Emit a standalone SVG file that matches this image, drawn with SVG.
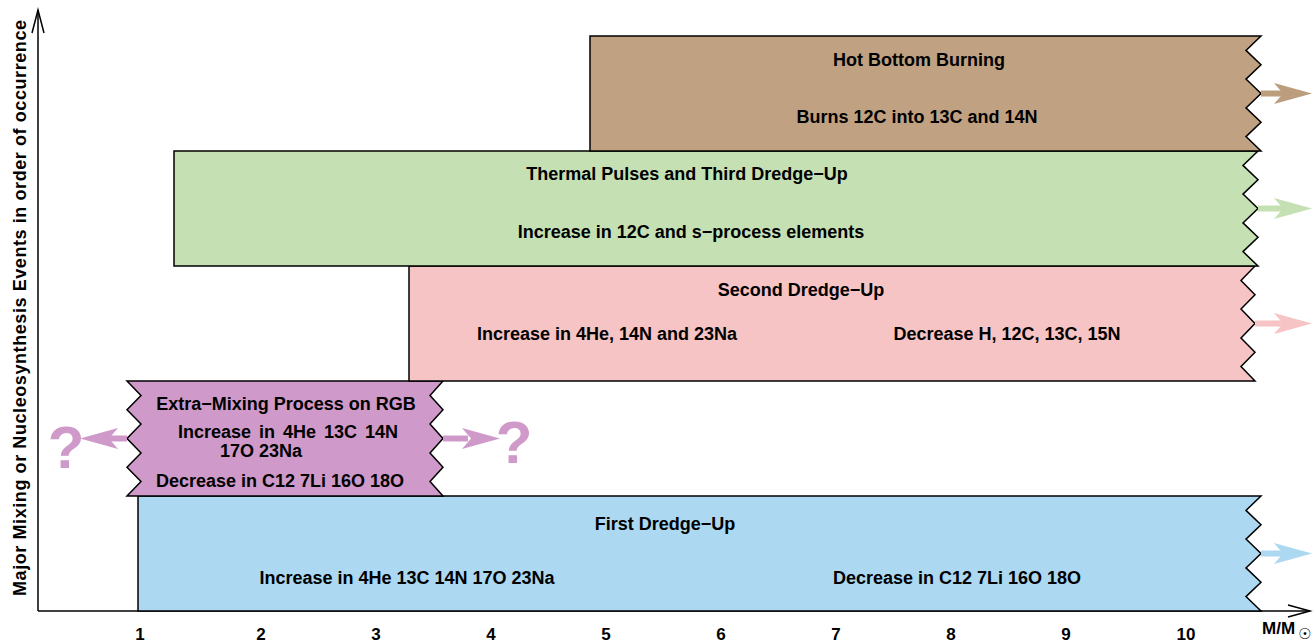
<svg xmlns="http://www.w3.org/2000/svg" width="1316" height="643" viewBox="0 0 1316 643">
<style>
text{font-family:"Liberation Sans",Arial,Helvetica,sans-serif;font-weight:bold;font-size:18px;fill:#000;text-anchor:middle}
.box{stroke:#000;stroke-width:1.5;stroke-linejoin:miter}
.axis{stroke:#000;stroke-width:1.5;fill:none}
.q{font-size:60px;fill:#cf9ac9}
.num{font-size:17px}
</style>
<rect width="1316" height="643" fill="#fff"/>
<g id="axes">
<line class="axis" x1="38" y1="611" x2="38" y2="10"/>
<polyline class="axis" points="32,33 38,10 44,33"/>
<line class="axis" x1="38" y1="611" x2="1310" y2="611"/>
<polyline class="axis" points="1288,605 1310,611 1288,617"/>
<text transform="translate(26,308) rotate(-90)" textLength="576" lengthAdjust="spacing">Major Mixing or Nucleosynthesis Events in order of occurrence</text>
<text class="num" x="140" y="640">1</text>
<text class="num" x="261" y="640">2</text>
<text class="num" x="376" y="640">3</text>
<text class="num" x="491" y="640">4</text>
<text class="num" x="606" y="640">5</text>
<text class="num" x="721" y="640">6</text>
<text class="num" x="836" y="640">7</text>
<text class="num" x="951" y="640">8</text>
<text class="num" x="1066" y="640">9</text>
<text class="num" x="1186" y="640">10</text>
<text x="1262" y="634" style="text-anchor:start;font-size:17px">M/M</text>
<text x="1305" y="639" style="font-family:'DejaVu Sans',sans-serif;font-size:15px;font-weight:bold">☉</text>
</g>
<g id="first-dredge-up">
<path class="box" fill="#acd8f2" d="M138,496 H1261 L1246,510.4 L1261,524.8 L1246,539.1 L1261,553.5 L1246,567.9 L1261,582.3 L1246,596.6 L1261,611 H138 Z"/>
<text x="665" y="530">First Dredge−Up</text>
<text x="407" y="584">Increase in 4He 13C 14N 17O 23Na</text>
<text x="957" y="584">Decrease in C12 7Li 16O 18O</text>
</g>
<g id="extra-mixing">
<path class="box" fill="#cf9ac9" d="M127,381 H443 L430,395.4 L443,409.8 L430,424.1 L443,438.5 L430,452.9 L443,467.3 L430,481.6 L443,496 H127 L141,481.6 L127,467.3 L141,452.9 L127,438.5 L141,424.1 L127,409.8 L141,395.4 Z"/>
<text x="286" y="410">Extra−Mixing Process on RGB</text>
<text x="288" y="438" style="word-spacing:3px">Increase in 4He 13C 14N</text>
<text x="261" y="457">17O 23Na</text>
<text x="280" y="487">Decrease in C12 7Li 16O 18O</text>
<text class="q" x="66" y="468">?</text>
<text class="q" x="514" y="463">?</text>
</g>
<g id="second-dredge-up">
<path class="box" fill="#f6c4c4" d="M409,266 H1255 L1241,280.4 L1255,294.8 L1241,309.1 L1255,323.5 L1241,337.9 L1255,352.3 L1241,366.6 L1255,381 H409 Z"/>
<text x="801" y="296">Second Dredge−Up</text>
<text x="607" y="340">Increase in 4He, 14N and 23Na</text>
<text x="1007" y="340">Decrease H, 12C, 13C, 15N</text>
</g>
<g id="thermal-pulses">
<path class="box" fill="#c5e0b3" d="M174,151 H1258 L1243,165.4 L1258,179.8 L1243,194.1 L1258,208.5 L1243,222.9 L1258,237.3 L1243,251.6 L1258,266 H174 Z"/>
<text x="687" y="180">Thermal Pulses and Third Dredge−Up</text>
<text x="691" y="238">Increase in 12C and s−process elements</text>
</g>
<g id="hot-bottom-burning">
<path class="box" fill="#c0a283" d="M590,36 H1261 L1246,50.4 L1261,64.8 L1246,79.1 L1261,93.5 L1246,107.9 L1261,122.3 L1246,136.6 L1261,151 H590 Z"/>
<text x="919" y="66">Hot Bottom Burning</text>
<text x="917" y="123">Burns 12C into 13C and 14N</text>
</g>
<g id="connectors">
<g fill="#bc9e7e"><rect x="1261" y="90.5" width="24" height="6"/><path d="M1312,93.5 L1274,83 L1283,93.5 L1274,104 Z"/></g>
<g fill="#c5e0b3"><rect x="1258" y="205.5" width="27" height="6"/><path d="M1312,208.5 L1274,198 L1283,208.5 L1274,219 Z"/></g>
<g fill="#f6c4c4"><rect x="1255" y="320.5" width="30" height="6"/><path d="M1312,323.5 L1274,313 L1283,323.5 L1274,334 Z"/></g>
<g fill="#acd8f2"><rect x="1261" y="550.5" width="24" height="6"/><path d="M1312,553.5 L1274,543 L1283,553.5 L1274,564 Z"/></g>
<g fill="#cf9ac9"><rect x="105" y="435.5" width="22" height="6"/><path d="M80,438.5 L118,428 L109,438.5 L118,449 Z"/></g>
<g fill="#cf9ac9"><rect x="443" y="435.5" width="25" height="6"/><path d="M500,438.5 L462,428 L471,438.5 L462,449 Z"/></g>
</g>
</svg>
